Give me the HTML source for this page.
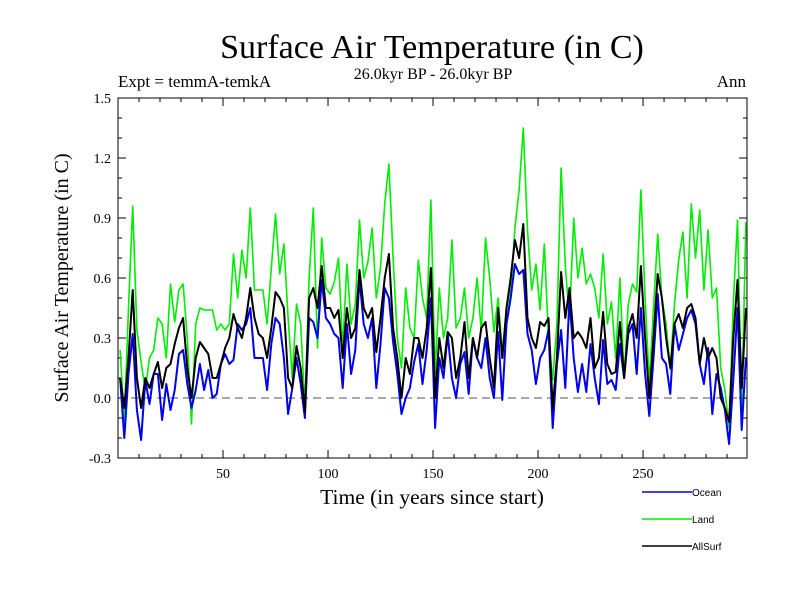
<!DOCTYPE html>
<html><head><meta charset="utf-8"><style>
html,body{margin:0;padding:0;background:#fff;}
svg{display:block;font-family:"Liberation Serif",serif;}
</style></head><body>
<svg id="chart" width="800" height="600" viewBox="0 0 800 600" xmlns="http://www.w3.org/2000/svg">
<rect width="800" height="600" fill="#fff"/>
<text x="432" y="58" font-size="34" text-anchor="middle">Surface Air Temperature (in C)</text>
<text x="118" y="87" font-size="17">Expt = temmA-temkA</text>
<text x="433" y="79" font-size="16" text-anchor="middle">26.0kyr BP - 26.0kyr BP</text>
<text x="746" y="87" font-size="17" text-anchor="end">Ann</text>
<text transform="translate(68,278) rotate(-90)" font-size="20" text-anchor="middle">Surface Air Temperature (in C)</text>
<text x="432" y="504" font-size="21.5" text-anchor="middle">Time (in years since start)</text>
<g id="axes"></g>
<g id="plot"></g>
<g id="legend" font-family="Liberation Sans, sans-serif" font-size="10"></g>
</svg>
<script>
const startYear = 1;
const yearStep = 2;
const oceanValues = [0.10,-0.20,0.12,0.32,-0.06,-0.21,0.09,-0.03,0.12,0.12,
-0.11,0.07,-0.06,0.04,0.22,0.24,0.07,-0.05,0.04,0.17,
0.04,0.14,0.00,0.02,0.17,0.22,0.17,0.19,0.37,0.34,
0.37,0.45,0.20,0.20,0.20,0.04,0.27,0.40,0.37,0.20,
-0.08,0.05,0.20,0.07,-0.10,0.40,0.38,0.30,0.59,0.40,
0.37,0.32,0.30,0.05,0.37,0.12,0.24,0.60,0.37,0.30,
0.40,0.05,0.27,0.55,0.50,0.28,0.12,-0.08,0.00,0.05,
0.18,0.27,0.07,0.24,0.50,-0.15,0.20,0.10,0.32,0.10,
0.00,0.17,0.23,0.02,0.30,0.20,0.15,0.30,0.10,0.00,
0.33,-0.01,0.37,0.50,0.67,0.62,0.64,0.32,0.24,0.07,
0.20,0.24,0.34,-0.15,0.17,0.34,0.05,0.50,0.20,0.03,
0.17,0.03,0.27,0.10,-0.03,0.29,0.07,0.09,0.04,0.27,
0.10,0.32,0.37,0.12,0.45,0.12,-0.09,0.20,0.52,0.20,
0.17,0.02,0.37,0.24,0.32,0.40,0.44,0.37,0.17,0.07,
0.25,-0.08,0.12,0.05,-0.06,-0.23,0.09,0.45,-0.16,0.20];
const landValues = [0.24,-0.11,0.45,0.96,0.34,0.18,0.04,0.20,0.24,0.40,
0.37,0.20,0.57,0.38,0.54,0.57,0.30,-0.13,0.37,0.45,
0.44,0.44,0.44,0.34,0.37,0.34,0.37,0.72,0.50,0.74,
0.60,0.95,0.54,0.54,0.54,0.37,0.65,0.92,0.62,0.77,
0.40,0.10,0.47,0.37,-0.05,0.60,0.95,0.25,0.80,0.55,
0.52,0.58,0.70,0.25,0.67,0.37,0.47,0.89,0.60,0.68,
0.85,0.50,0.65,0.97,1.17,0.70,0.30,0.15,0.55,0.35,
0.30,0.69,0.50,0.40,0.99,0.12,0.55,0.30,0.40,0.79,
0.35,0.40,0.55,0.30,0.40,0.60,0.33,0.80,0.60,0.33,
0.50,0.23,0.37,0.53,0.85,1.04,1.35,0.84,0.54,0.67,
0.44,0.77,0.30,0.09,0.37,1.15,0.66,0.39,0.90,0.60,
0.75,0.57,0.62,0.55,0.40,0.72,0.37,0.48,0.20,0.60,
0.10,0.47,0.57,0.53,1.04,0.50,0.07,0.45,0.82,0.50,
0.37,0.14,0.47,0.69,0.83,0.50,0.97,0.70,0.94,0.54,
0.84,0.50,0.55,0.15,0.04,-0.15,0.47,0.89,-0.06,0.88];
const allSurfValues = [0.10,-0.05,0.20,0.54,0.10,-0.05,0.10,0.05,0.12,0.18,
0.05,0.15,0.17,0.27,0.35,0.40,0.15,0.00,0.20,0.28,
0.25,0.22,0.10,0.10,0.17,0.25,0.30,0.42,0.35,0.30,
0.40,0.55,0.40,0.32,0.30,0.20,0.35,0.53,0.50,0.45,
0.10,0.05,0.26,0.15,-0.07,0.50,0.55,0.45,0.66,0.45,
0.45,0.40,0.44,0.20,0.45,0.30,0.35,0.64,0.45,0.40,
0.45,0.23,0.40,0.60,0.72,0.35,0.20,0.00,0.20,0.12,
0.30,0.30,0.20,0.35,0.65,0.00,0.30,0.15,0.33,0.30,
0.10,0.20,0.38,0.10,0.30,0.20,0.35,0.38,0.20,0.05,
0.45,0.20,0.45,0.60,0.79,0.70,0.87,0.40,0.30,0.25,
0.38,0.36,0.40,-0.05,0.20,0.63,0.40,0.55,0.30,0.33,
0.30,0.25,0.40,0.15,0.20,0.43,0.17,0.12,0.13,0.38,
0.10,0.35,0.42,0.30,0.66,0.30,0.00,0.30,0.62,0.50,
0.30,0.15,0.37,0.42,0.35,0.45,0.47,0.40,0.17,0.30,
0.20,0.25,0.20,0.00,-0.05,-0.12,0.30,0.59,0.05,0.45];
const yTickLabels = ["-0.3","0.0","0.3","0.6","0.9","1.2","1.5"];
const xTickLabels = ["50","100","150","200","250"];
const seriesNames = ["Ocean","Land","AllSurf"];

const NS = "http://www.w3.org/2000/svg";
const L = 118, R = 747, T = 98, B = 458;
const xMin = 0, xMax = 299.5, yMin = -0.3, yMax = 1.5;
function xs(v){ return L + (v - xMin) / (xMax - xMin) * (R - L); }
function ys(v){ return B - (v - yMin) / (yMax - yMin) * (B - T); }
function mk(tag, attrs, parent){ const e = document.createElementNS(NS, tag); for (const k in attrs) e.setAttribute(k, attrs[k]); parent.appendChild(e); return e; }

const axes = document.getElementById('axes');
const frame = mk('rect', {x:L, y:T, width:R-L, height:B-T, fill:'none', stroke:'#000', 'stroke-width':1}, axes);


const zero = mk('line', {x1:L, x2:R, y1:ys(0), y2:ys(0), stroke:'#555', 'stroke-width':1, 'stroke-dasharray':'8,5'}, axes);


for (let k = 0; k <= 18; k++) {
  const v = yMin + k * 0.1, y = ys(v), major = (k % 3 === 0), len = major ? 8 : 4;
  mk('line', {x1:L, x2:L+len, y1:y, y2:y, stroke:'#000'}, axes);
  mk('line', {x1:R, x2:R-len, y1:y, y2:y, stroke:'#000'}, axes);
}
yTickLabels.forEach(function(lab){
  const t = mk('text', {x:L-7, y:ys(parseFloat(lab))+5, 'font-size':14, 'text-anchor':'end'}, axes);
  t.textContent = lab;
  
  
});
for (let yr = 10; yr < 300; yr += 10) {
  const x = xs(yr), major = (yr % 50 === 0), len = major ? 8 : 4;
  mk('line', {x1:x, x2:x, y1:B, y2:B-len, stroke:'#000'}, axes);
  mk('line', {x1:x, x2:x, y1:T, y2:T+len, stroke:'#000'}, axes);
}
xTickLabels.forEach(function(lab){
  const t = mk('text', {x:xs(parseFloat(lab)), y:B+20, 'font-size':14, 'text-anchor':'middle'}, axes);
  t.textContent = lab;
  
  
});

const plot = document.getElementById('plot');
function pathFor(vals){ return vals.map(function(v,i){ return (i?'L':'M') + xs(startYear + i*yearStep).toFixed(1) + ',' + ys(v).toFixed(1); }).join(''); }
const landLine = mk('path', {d:pathFor(landValues), fill:'none', stroke:'#00ee00', 'stroke-width':1.6, 'stroke-linejoin':'round'}, plot);


const oceanLine = mk('path', {d:pathFor(oceanValues), fill:'none', stroke:'#0000ee', 'stroke-width':2, 'stroke-linejoin':'round'}, plot);


const allLine = mk('path', {d:pathFor(allSurfValues), fill:'none', stroke:'#000', 'stroke-width':2, 'stroke-linejoin':'round'}, plot);



const legend = document.getElementById('legend');
const legColors = ['#0000ee','#00ee00','#000'];
seriesNames.forEach(function(n,i){
  const y = 492 + i*27;
  const g = mk('g', {}, legend);
  
  
  mk('line', {x1:642, x2:692, y1:y, y2:y, stroke:legColors[i], 'stroke-width':1.5}, g);
  const t = mk('text', {x:692, y:y+4}, g);
  t.textContent = n;
});
</script>
</body></html>
